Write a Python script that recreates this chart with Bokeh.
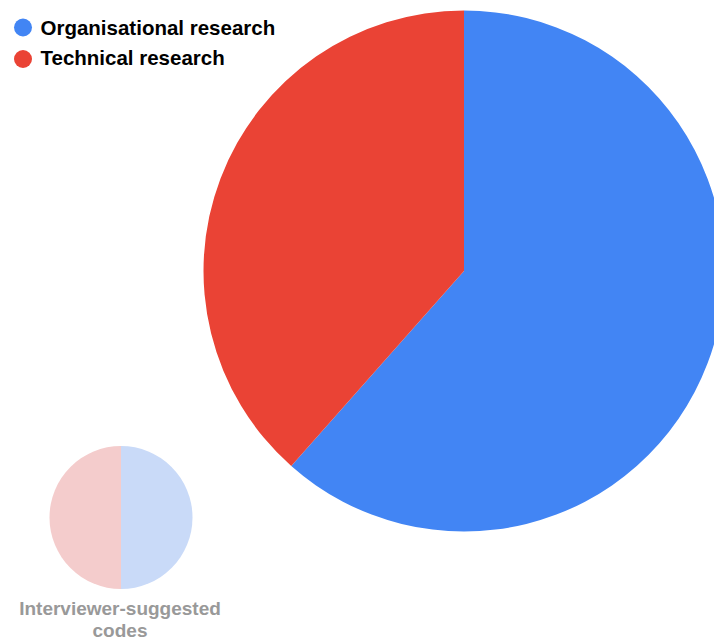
import numpy as np
from bokeh.plotting import figure
from bokeh.models import Range1d
from bokeh.core.properties import value
from bokeh.embed import file_html
from bokeh.resources import INLINE

# ---- data ----
categories = ["Organisational research", "Technical research"]
main_values = [8, 5]
suggested_values = [1, 1]
suggested_label = ["Interviewer-suggested", "codes"]
colors = ["#4285F4", "#EA4335"]
faded_colors = ["#C9DAF8", "#F4CCCC"]

W, H = 714, 640
p = figure(width=W, height=H, x_range=Range1d(0, W), y_range=Range1d(0, H),
           output_backend="svg", toolbar_location=None,
           x_axis_location=None, y_axis_location=None, min_border=0)
p.grid.visible = False
p.outline_line_color = None
p.background_fill_color = "white"
p.border_fill_color = "white"


def Y(y):
    return H - y


def pie(cx, cy, r, vals, cols):
    vals = np.array(vals, dtype=float)
    frac = np.cumsum(vals) / vals.sum()
    prev = np.concatenate([[0.0], frac[:-1]])
    # clockwise from 12 o'clock
    starts = np.pi / 2 - frac * 2 * np.pi
    ends = np.pi / 2 - prev * 2 * np.pi
    p.wedge(x=[cx] * len(vals), y=[Y(cy)] * len(vals), radius=r,
            start_angle=list(starts), end_angle=list(ends),
            direction="anticlock", fill_color=cols, line_color=None)


pie(463.5, 270.5, 260.5, main_values, colors)
pie(120.5, 517, 71.5, suggested_values, faded_colors)

# legend
leg_y = [27, 58.5]
p.scatter(x=[22.5, 22.5], y=[Y(v) for v in leg_y], size=18, marker="circle",
          fill_color=colors, line_color=None)
p.text(x=[40, 40], y=[Y(26.5), Y(57)], text=categories,
       text_font=value("Liberation Sans"), text_font_style="bold",
       text_font_size="20.5px", text_color="#000000",
       text_baseline="alphabetic", text_align="left")

# small pie label
p.text(x=[119.5, 119.5], y=[Y(608), Y(629.5)], text=suggested_label,
       text_font=value("Liberation Sans"), text_font_style="bold",
       text_font_size="19px", text_color="#999999",
       text_baseline="alphabetic", text_align="center")

open("out.html", "w").write(file_html(p, INLINE))
